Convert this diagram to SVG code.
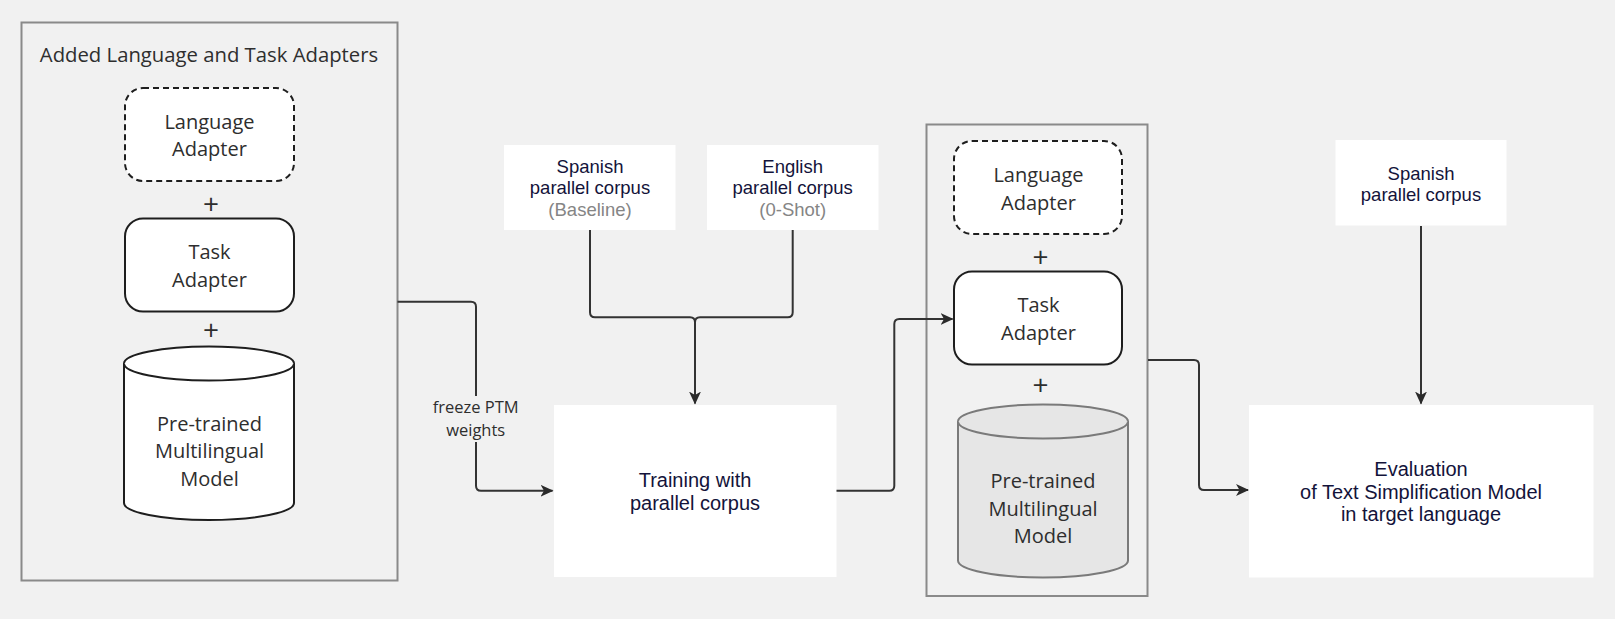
<svg xmlns="http://www.w3.org/2000/svg" width="1615" height="619" viewBox="0 0 1615 619">
<style>
.bg{fill:#f1f1f1}
.cont{fill:none;stroke:#8a8a8a;stroke-width:2}
.node{fill:#ffffff;stroke:#1e1e1e;stroke-width:2}
.dash{stroke-dasharray:6 4}
.cyl2{fill:#e6e6e6;stroke:#7a7a7a;stroke-width:2}
.white{fill:#ffffff}
.os{font-family:"Open Sans","Noto Sans",sans-serif;fill:#2e2e2e;text-anchor:middle}
.ar{font-family:"Liberation Sans",Arial,sans-serif;fill:#13133a;text-anchor:middle}
.gray{fill:#858585}
.conn{fill:none;stroke:#333333;stroke-width:2}
</style>
<defs>
<marker id="arr" markerWidth="14" markerHeight="14" refX="12" refY="7" orient="auto" markerUnits="userSpaceOnUse">
<path d="M0,1 L13,7 L0,13 L3.5,7 Z" fill="#2a2a2a"/>
</marker>
</defs>
<rect class="bg" x="0" y="0" width="1615" height="619"/>

<g id="left-container">
<rect class="cont" x="21.5" y="22.5" width="376" height="558"/>
<text class="os" x="209" y="62" font-size="20.3">Added Language and Task Adapters</text>
</g>
<g id="lang-adapter-1">
<rect class="node dash" x="125" y="88" width="169" height="93" rx="18"/>
<text class="os" x="209.5" y="129" font-size="20">Language</text>
<text class="os" x="209.5" y="156" font-size="20">Adapter</text>
</g>
<text class="os" x="211" y="214" font-size="28">+</text>
<g id="task-adapter-1">
<rect class="node" x="125" y="218.5" width="169" height="93" rx="18"/>
<text class="os" x="209.5" y="259" font-size="20">Task</text>
<text class="os" x="209.5" y="287" font-size="20">Adapter</text>
</g>
<text class="os" x="211" y="339.5" font-size="28">+</text>
<g id="ptm-1">
<path class="node" d="M124,363.5 L124,503 A85,17 0 0 0 294,503 L294,363.5 A85,17 0 0 0 124,363.5 Z"/>
<path class="node" d="M124,363.5 A85,17 0 0 0 294,363.5" fill="none"/>
<text class="os" x="209.5" y="430.5" font-size="20">Pre-trained</text>
<text class="os" x="209.5" y="458" font-size="20">Multilingual</text>
<text class="os" x="209.5" y="485.5" font-size="20">Model</text>
</g>

<g id="spanish-baseline">
<rect class="white" x="504" y="145" width="171.5" height="85"/>
<text class="ar" x="590" y="172.5" font-size="18.5">Spanish</text>
<text class="ar" x="590" y="194" font-size="18.5">parallel corpus</text>
<text class="ar gray" x="590" y="215.5" font-size="18.5">(Baseline)</text>
</g>
<g id="english-0shot">
<rect class="white" x="707" y="145" width="171.5" height="85"/>
<text class="ar" x="792.7" y="172.5" font-size="18.5">English</text>
<text class="ar" x="792.7" y="194" font-size="18.5">parallel corpus</text>
<text class="ar gray" x="792.7" y="215.5" font-size="18.5">(0-Shot)</text>
</g>
<g id="training">
<rect class="white" x="554" y="405" width="282.5" height="172"/>
<text class="ar" x="695" y="486.5" font-size="20">Training with</text>
<text class="ar" x="695" y="509.5" font-size="20">parallel corpus</text>
</g>

<g id="mid-container">
<rect class="cont" x="926.5" y="124.5" width="221" height="471.5"/>
</g>
<g id="lang-adapter-2">
<rect class="node dash" x="954" y="141" width="168" height="93" rx="18"/>
<text class="os" x="1038.5" y="182" font-size="20">Language</text>
<text class="os" x="1038.5" y="209.5" font-size="20">Adapter</text>
</g>
<text class="os" x="1040.5" y="266.5" font-size="28">+</text>
<g id="task-adapter-2">
<rect class="node" x="954" y="271.5" width="168" height="93" rx="18"/>
<text class="os" x="1038.5" y="312" font-size="20">Task</text>
<text class="os" x="1038.5" y="340" font-size="20">Adapter</text>
</g>
<text class="os" x="1040.5" y="394.5" font-size="28">+</text>
<g id="ptm-2">
<path class="cyl2" d="M958,421.5 L958,560.5 A85,17 0 0 0 1128,560.5 L1128,421.5 A85,17 0 0 0 958,421.5 Z"/>
<path class="cyl2" d="M958,421.5 A85,17 0 0 0 1128,421.5" fill="none"/>
<text class="os" x="1043" y="487.5" font-size="20" fill="#3c3c3c">Pre-trained</text>
<text class="os" x="1043" y="515.5" font-size="20" fill="#3c3c3c">Multilingual</text>
<text class="os" x="1043" y="543" font-size="20" fill="#3c3c3c">Model</text>
</g>

<g id="spanish-eval">
<rect class="white" x="1335.5" y="140" width="171" height="85.5"/>
<text class="ar" x="1421" y="179.5" font-size="18.5">Spanish</text>
<text class="ar" x="1421" y="200.5" font-size="18.5">parallel corpus</text>
</g>
<g id="evaluation">
<rect class="white" x="1249" y="405" width="344.5" height="172.5"/>
<text class="ar" x="1421" y="476" font-size="20">Evaluation</text>
<text class="ar" x="1421" y="498.5" font-size="20">of Text Simplification Model</text>
<text class="ar" x="1421" y="520.5" font-size="20">in target language</text>
</g>

<g id="connectors">
<path class="conn" d="M397.5,301.7 H471 Q476,301.7 476,306.7 V396"/>
<path class="conn" d="M476,442 V485.7 Q476,490.7 481,490.7 H552.5" marker-end="url(#arr)"/>
<text class="os" x="475.7" y="413.3" font-size="16.5">freeze PTM</text>
<text class="os" x="475.7" y="436" font-size="16.5">weights</text>
<path class="conn" d="M590,230 V312.3 Q590,317.3 595,317.3 H690 Q695,317.3 695,322.3"/>
<path class="conn" d="M792.7,230 V312.3 Q792.7,317.3 787.7,317.3 H700 Q695,317.3 695,322.3"/>
<path class="conn" d="M695,322 V403.5" marker-end="url(#arr)"/>
<path class="conn" d="M836.5,490.7 H889.3 Q894.3,490.7 894.3,485.7 V324 Q894.3,319 899.3,319 H952.5" marker-end="url(#arr)"/>
<path class="conn" d="M1148,360 H1194 Q1199,360 1199,365 V485 Q1199,490 1204,490 H1248" marker-end="url(#arr)"/>
<path class="conn" d="M1421,226 V403.5" marker-end="url(#arr)"/>
</g>
</svg>
